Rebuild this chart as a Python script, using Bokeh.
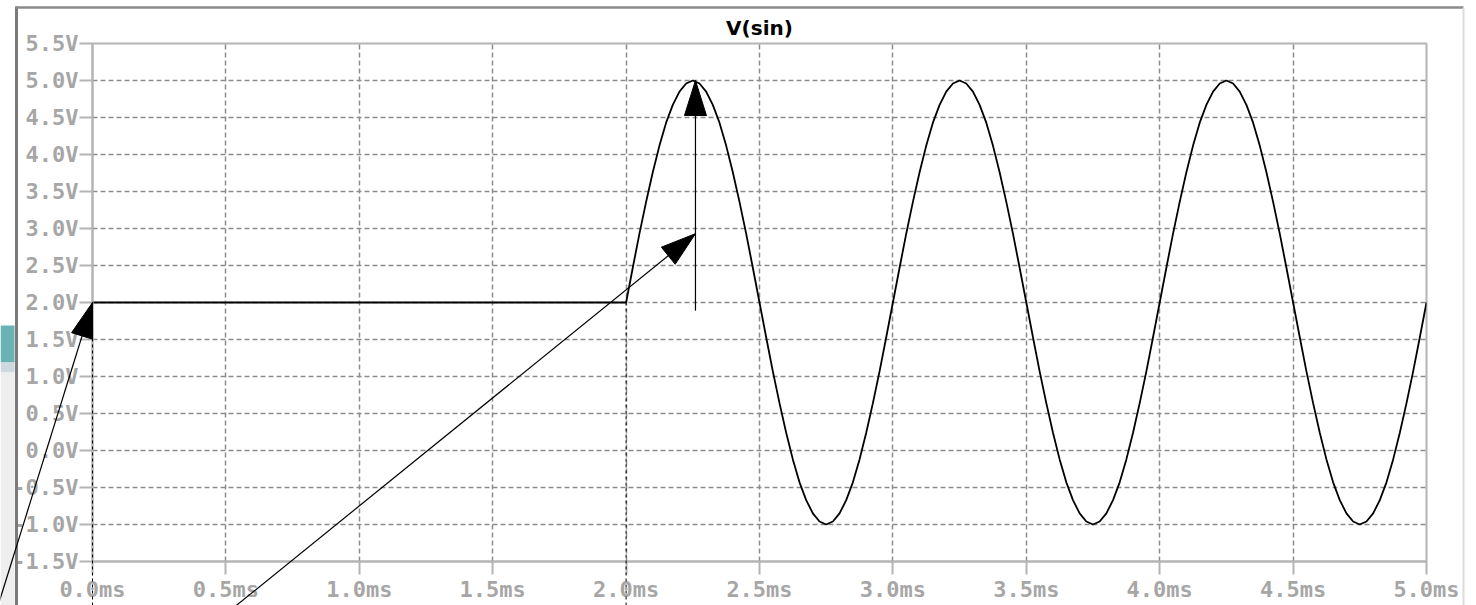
from bokeh.plotting import figure
from bokeh.models import Range1d, FixedTicker
from bokeh.embed import file_html
from bokeh.resources import INLINE
import math

# ---- data ----
title_text = "V(sin)"

x_ticks = [0.0, 0.5, 1.0, 1.5, 2.0, 2.5, 3.0, 3.5, 4.0, 4.5, 5.0]
x_tick_labels = ["0.0ms", "0.5ms", "1.0ms", "1.5ms", "2.0ms", "2.5ms",
                 "3.0ms", "3.5ms", "4.0ms", "4.5ms", "5.0ms"]
y_ticks = [-1.5, -1.0, -0.5, 0.0, 0.5, 1.0, 1.5, 2.0, 2.5, 3.0, 3.5, 4.0, 4.5, 5.0, 5.5]
y_tick_labels = ["-1.5V", "-1.0V", "-0.5V", "0.0V", "0.5V", "1.0V", "1.5V", "2.0V",
                 "2.5V", "3.0V", "3.5V", "4.0V", "4.5V", "5.0V", "5.5V"]

time_ms = [
    0.0,
    2.0, 2.025, 2.05, 2.075, 2.1, 2.125, 2.15, 2.175, 2.2, 2.225,
    2.25, 2.275, 2.3, 2.325, 2.35, 2.375, 2.4, 2.425, 2.45, 2.475,
    2.5, 2.525, 2.55, 2.575, 2.6, 2.625, 2.65, 2.675, 2.7, 2.725,
    2.75, 2.775, 2.8, 2.825, 2.85, 2.875, 2.9, 2.925, 2.95, 2.975,
    3.0, 3.025, 3.05, 3.075, 3.1, 3.125, 3.15, 3.175, 3.2, 3.225,
    3.25, 3.275, 3.3, 3.325, 3.35, 3.375, 3.4, 3.425, 3.45, 3.475,
    3.5, 3.525, 3.55, 3.575, 3.6, 3.625, 3.65, 3.675, 3.7, 3.725,
    3.75, 3.775, 3.8, 3.825, 3.85, 3.875, 3.9, 3.925, 3.95, 3.975,
    4.0, 4.025, 4.05, 4.075, 4.1, 4.125, 4.15, 4.175, 4.2, 4.225,
    4.25, 4.275, 4.3, 4.325, 4.35, 4.375, 4.4, 4.425, 4.45, 4.475,
    4.5, 4.525, 4.55, 4.575, 4.6, 4.625, 4.65, 4.675, 4.7, 4.725,
    4.75, 4.775, 4.8, 4.825, 4.85, 4.875, 4.9, 4.925, 4.95, 4.975,
    5.0,
]
v_sin = [
    2.00,
    2.00, 2.47, 2.93, 3.36, 3.76, 4.12, 4.43, 4.67, 4.85, 4.96,
    5.00, 4.96, 4.85, 4.67, 4.43, 4.12, 3.76, 3.36, 2.93, 2.47,
    2.00, 1.53, 1.07, 0.64, 0.24, -0.12, -0.43, -0.67, -0.85, -0.96,
    -1.00, -0.96, -0.85, -0.67, -0.43, -0.12, 0.24, 0.64, 1.07, 1.53,
    2.00, 2.47, 2.93, 3.36, 3.76, 4.12, 4.43, 4.67, 4.85, 4.96,
    5.00, 4.96, 4.85, 4.67, 4.43, 4.12, 3.76, 3.36, 2.93, 2.47,
    2.00, 1.53, 1.07, 0.64, 0.24, -0.12, -0.43, -0.67, -0.85, -0.96,
    -1.00, -0.96, -0.85, -0.67, -0.43, -0.12, 0.24, 0.64, 1.07, 1.53,
    2.00, 2.47, 2.93, 3.36, 3.76, 4.12, 4.43, 4.67, 4.85, 4.96,
    5.00, 4.96, 4.85, 4.67, 4.43, 4.12, 3.76, 3.36, 2.93, 2.47,
    2.00, 1.53, 1.07, 0.64, 0.24, -0.12, -0.43, -0.67, -0.85, -0.96,
    -1.00, -0.96, -0.85, -0.67, -0.43, -0.12, 0.24, 0.64, 1.07, 1.53,
    2.00,
]

# annotation arrows (start x, start y) -> (tip x, tip y), in ms / V
arrow_starts_x = [-0.35, 0.52, 2.26]
arrow_starts_y = [-2.05, -2.15, 1.89]
arrow_ends_x = [0.0, 2.26, 2.26]
arrow_ends_y = [2.0, 2.93, 5.0]

# dark dashed cursor-like markers
marker_x = [0.0, 2.0]
marker_top = [2.0, 2.0]
marker_bottom = [-2.3, -2.3]

# ---- layout constants ----
W, H = 1476, 605
LEFT, RIGHT, TOP, BOTTOM = 92, 50, 43, 44
X0, X1, Y0, Y1 = 0.0, 5.0, -1.5, 5.5
PX_PER_X = (W - LEFT - RIGHT) / (X1 - X0)
PX_PER_Y = (H - TOP - BOTTOM) / (Y1 - Y0)

AX = "#b4b4b4"
LBL = "#a6a6a6"
GRID = "#8c8c8c"
FONT = "DejaVu Sans Mono"


def px_to_x(px):
    return X0 + (px - LEFT) / PX_PER_X


def px_to_y(py):
    return Y1 - (py - TOP) / PX_PER_Y


# ---- main plot ----
p = figure(width=W, height=H,
           x_range=Range1d(X0, X1), y_range=Range1d(Y0, Y1),
           output_backend="svg", toolbar_location=None,
           min_border_left=LEFT, min_border_right=RIGHT,
           min_border_top=TOP, min_border_bottom=BOTTOM,
           background_fill_color="white", border_fill_color="white")

p.title.text = title_text
p.title.align = "center"
p.title.text_font = "DejaVu Sans"
p.title.text_font_style = "bold"
p.title.text_font_size = "20px"
p.title.text_color = "black"
p.title.standoff = 8

p.outline_line_color = AX
p.outline_line_width = 2

for ax in (p.xaxis[0], p.yaxis[0]):
    ax.axis_line_color = AX
    ax.axis_line_width = 2
    ax.major_tick_line_color = AX
    ax.major_tick_line_width = 2
    ax.major_tick_in = 0
    ax.minor_tick_line_color = None
    ax.major_label_text_color = LBL
    ax.major_label_text_font = FONT
    ax.major_label_text_font_style = "bold"
    ax.major_label_text_font_size = "22px"

p.xaxis.ticker = FixedTicker(ticks=x_ticks)
p.xaxis.major_label_overrides = {t: s for t, s in zip(x_ticks, x_tick_labels)}
p.xaxis.major_tick_out = 13
p.xaxis.major_label_standoff = 2

p.yaxis.ticker = FixedTicker(ticks=y_ticks)
p.yaxis.major_label_overrides = {t: s for t, s in zip(y_ticks, y_tick_labels)}
p.yaxis.major_tick_out = 13
p.yaxis.major_label_standoff = 1

for g in (p.xgrid[0], p.ygrid[0]):
    g.grid_line_color = GRID
    g.grid_line_dash = "5 3"
    g.grid_line_width = 1.5

p.line(time_ms, v_sin, line_color="black", line_width=1.8)

# ---- transparent overlay (same scale, frame = whole canvas) for the
#      annotations that reach outside the plot frame; separate root so the
#      layout does not align its frame with the main plot ----
ov = figure(width=W, height=H,
            x_range=Range1d(px_to_x(0), px_to_x(W)),
            y_range=Range1d(px_to_y(H), px_to_y(0)),
            output_backend="svg", toolbar_location=None,
            x_axis_location=None, y_axis_location=None,
            min_border=0, outline_line_color=None,
            background_fill_alpha=0, border_fill_alpha=0)
ov.grid.visible = False
ov.styles = {"position": "absolute", "top": "0px", "left": "0px"}

# window chrome at the left / top / right
ov.quad(left=[px_to_x(0)] * 3, right=[px_to_x(14)] * 3,
        top=[px_to_y(325), px_to_y(362), px_to_y(372)],
        bottom=[px_to_y(362), px_to_y(372), px_to_y(H)],
        fill_color=["#6ab3b5", "#cdd9de", "#eeeeee"], line_color=None)
ov.segment(x0=[px_to_x(16), px_to_x(15), px_to_x(1463)],
           y0=[px_to_y(6), px_to_y(7), px_to_y(7)],
           x1=[px_to_x(16), px_to_x(1463), px_to_x(1463)],
           y1=[px_to_y(H), px_to_y(7), px_to_y(H)],
           line_color=["#7a7a7a", "#8a8a8a", "#dcdcdc"], line_width=[3, 2.5, 2])

# dark dashed markers
ov.segment(x0=marker_x, y0=marker_top, x1=marker_x, y1=marker_bottom,
           line_color="black", line_width=1, line_dash="3 3")

# arrow shafts
ov.segment(x0=arrow_starts_x, y0=arrow_starts_y, x1=arrow_ends_x, y1=arrow_ends_y,
           line_color="black", line_width=1.2)

# elongated triangular heads
HEAD_LEN, HEAD_HALF = 35, 11
head_xs, head_ys = [], []
for xs, ys, xe, ye in zip(arrow_starts_x, arrow_starts_y, arrow_ends_x, arrow_ends_y):
    dx = (xe - xs) * PX_PER_X
    dy = (ye - ys) * PX_PER_Y
    n = math.hypot(dx, dy)
    ux, uy = dx / n, dy / n
    bx, by = -HEAD_LEN * ux, -HEAD_LEN * uy
    head_xs.append([xe,
                    xe + (bx - HEAD_HALF * uy) / PX_PER_X,
                    xe + (bx + HEAD_HALF * uy) / PX_PER_X])
    head_ys.append([ye,
                    ye + (by + HEAD_HALF * ux) / PX_PER_Y,
                    ye + (by - HEAD_HALF * ux) / PX_PER_Y])
ov.patches(head_xs, head_ys, fill_color="black", line_color="black", line_width=1)

open("out.html", "w").write(file_html([p, ov], INLINE))
